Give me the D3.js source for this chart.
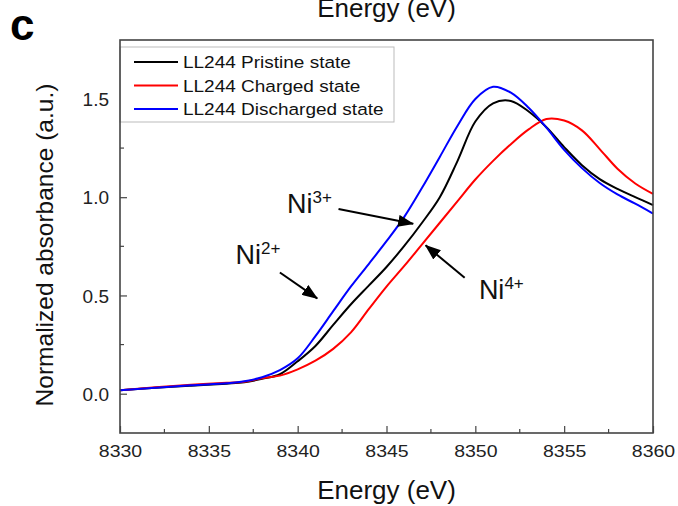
<!DOCTYPE html>
<html>
<head>
<meta charset="utf-8">
<script src="https://cdn.jsdelivr.net/npm/d3@7"></script>
<style>
  html, body { margin: 0; padding: 0; background: #fff; }
  svg { display: block; font-family: "Liberation Sans", Arial, sans-serif; }
</style>
</head>
<body>
<svg id="chart" width="678" height="506"></svg>
<script>
// energy grid (eV) and normalized absorbance
const energy = [8330, 8332, 8334, 8336, 8337, 8338, 8339, 8340, 8341, 8342, 8343, 8344, 8345,
  8346, 8347, 8348, 8349, 8350, 8351, 8352, 8353, 8354, 8355, 8356, 8357, 8358, 8359, 8360];
const pristine = [0.018, 0.030, 0.041, 0.051, 0.058, 0.076, 0.099, 0.165, 0.243, 0.350, 0.455, 0.550, 0.645,
  0.752, 0.870, 1.000, 1.185, 1.385, 1.478, 1.490, 1.436, 1.356, 1.255, 1.163, 1.092, 1.042, 1.000, 0.960];
const charged = [0.018, 0.033, 0.046, 0.056, 0.061, 0.079, 0.092, 0.124, 0.168, 0.228, 0.312, 0.430, 0.545,
  0.650, 0.760, 0.870, 0.980, 1.090, 1.185, 1.270, 1.345, 1.398, 1.390, 1.340, 1.245, 1.145, 1.070, 1.017];
const discharged = [0.018, 0.030, 0.043, 0.053, 0.063, 0.084, 0.120, 0.180, 0.293, 0.420, 0.546, 0.660, 0.776,
  0.900, 1.048, 1.205, 1.364, 1.500, 1.562, 1.532, 1.455, 1.354, 1.241, 1.148, 1.072, 1.014, 0.967, 0.917];

const seriesNames = ['LL244 Pristine state', 'LL244 Charged state', 'LL244 Discharged state'];
const seriesColors = ['#000000', '#ff0000', '#0000ff'];
const xTicks = [8330, 8335, 8340, 8345, 8350, 8355, 8360];
const yTicks = [0.0, 0.5, 1.0, 1.5];

// annotations: label, charge, label position (data), arrow start/end (data)
const notes = [
  { ion: 'Ni', sup: '2+', at: [8336.5, 0.66], from: [8339.0, 0.617], to: [8341.1, 0.485] },
  { ion: 'Ni', sup: '3+', at: [8339.4, 0.92], from: [8342.3, 0.94], to: [8346.5, 0.865] },
  { ion: 'Ni', sup: '4+', at: [8350.2, 0.48], from: [8349.4, 0.59], to: [8347.2, 0.755] }
];

const svg = d3.select('#chart');
const plotL = 120, plotR = 653, plotT = 40, plotB = 433;

const x = d3.scaleLinear().domain([8330, 8360]).range([plotL, plotR]);
const y = d3.scaleLinear().domain([-0.2, 1.8]).range([plotB, plotT]);

const axisColor = '#444';

// arrow head
svg.append('defs').append('marker')
  .attr('id', 'head')
  .attr('markerUnits', 'userSpaceOnUse')
  .attr('viewBox', '0 0 16 12')
  .attr('refX', 15).attr('refY', 6)
  .attr('markerWidth', 16).attr('markerHeight', 12)
  .attr('orient', 'auto')
  .append('path').attr('d', 'M0,0L16,6L0,12Z').attr('fill', '#000');

// curves
const line = d3.line().x((d, i) => x(energy[i])).y(d => y(d)).curve(d3.curveCatmullRom.alpha(0.5));
[pristine, charged, discharged].forEach((s, k) => {
  svg.append('path')
    .attr('d', line(s))
    .attr('fill', 'none')
    .attr('stroke', seriesColors[k])
    .attr('stroke-width', 2);
});

// minor ticks
const xMinor = d3.range(8332.5, 8360, 5);
const yMinor = [0.25, 0.75, 1.25];
svg.append('g').selectAll('line').data(xMinor).join('line')
  .attr('x1', d => x(d)).attr('x2', d => x(d))
  .attr('y1', plotB).attr('y2', plotB - 4)
  .attr('stroke', axisColor).attr('stroke-width', 1.2);
svg.append('g').selectAll('line').data(yMinor).join('line')
  .attr('x1', plotL).attr('x2', plotL + 4)
  .attr('y1', d => y(d)).attr('y2', d => y(d))
  .attr('stroke', axisColor).attr('stroke-width', 1.2);

// bottom axis
const gx = svg.append('g')
  .attr('transform', `translate(0,${plotB})`)
  .call(d3.axisBottom(x).tickValues(xTicks).tickFormat(d3.format('d')).tickSizeInner(-7).tickSizeOuter(0));
gx.select('.domain').remove();
gx.selectAll('.tick line').attr('stroke', axisColor).attr('stroke-width', 1.2);
gx.selectAll('.tick text')
  .attr('y', 0).attr('dy', null)
  .attr('transform', 'translate(0,24) scale(1,0.88)')
  .attr('font-size', 19.5).attr('fill', '#222')
  .attr('font-family', '"Liberation Sans", Arial, sans-serif');

// left axis
const gy = svg.append('g')
  .attr('transform', `translate(${plotL},0)`)
  .call(d3.axisLeft(y).tickValues(yTicks).tickFormat(d3.format('.1f')).tickSizeInner(-7).tickSizeOuter(0));
gy.select('.domain').remove();
gy.selectAll('.tick line').attr('stroke', axisColor).attr('stroke-width', 1.2);
gy.selectAll('.tick text')
  .attr('x', -11).attr('dy', '0.35em')
  .attr('font-size', 19).attr('fill', '#222')
  .attr('font-family', '"Liberation Sans", Arial, sans-serif');

// legend box
svg.append('rect')
  .attr('x', plotL).attr('y', 47).attr('width', 274).attr('height', 75)
  .attr('fill', '#fff').attr('stroke', '#bbb').attr('stroke-width', 1);
const leg = svg.append('g').selectAll('g').data(seriesNames).join('g')
  .attr('transform', (d, i) => `translate(134,${62 + i * 23.5})`);
leg.append('line').attr('x1', 0).attr('x2', 44)
  .attr('stroke', (d, i) => seriesColors[i]).attr('stroke-width', 2);
leg.append('text').text(d => d)
  .attr('transform', 'translate(49,6) scale(1,0.84)')
  .attr('font-size', 19).attr('fill', '#111');

// frame
svg.append('rect')
  .attr('x', plotL).attr('y', plotT).attr('width', plotR - plotL).attr('height', plotB - plotT)
  .attr('fill', 'none').attr('stroke', axisColor).attr('stroke-width', 1.6);

// annotations
notes.forEach(n => {
  svg.append('line')
    .attr('x1', x(n.from[0])).attr('y1', y(n.from[1]))
    .attr('x2', x(n.to[0])).attr('y2', y(n.to[1]))
    .attr('stroke', '#000').attr('stroke-width', 2)
    .attr('marker-end', 'url(#head)');
  const t = svg.append('text')
    .attr('x', x(n.at[0])).attr('y', y(n.at[1]))
    .attr('font-size', 27).attr('fill', '#111');
  t.append('tspan').text(n.ion);
  t.append('tspan').text(n.sup).attr('font-size', 17).attr('dy', -10);
});

// axis titles
svg.append('text')
  .attr('x', (plotL + plotR) / 2).attr('y', 499)
  .attr('text-anchor', 'middle').attr('font-size', 26).attr('fill', '#111')
  .text('Energy (eV)');
// bottom of the previous panel's axis title, clipped by the top edge as in the source
svg.append('text')
  .attr('x', (plotL + plotR) / 2).attr('y', 17)
  .attr('text-anchor', 'middle').attr('font-size', 26).attr('fill', '#111')
  .text('Energy (eV)');
svg.append('text')
  .attr('transform', 'translate(53,245) rotate(-90)')
  .attr('text-anchor', 'middle').attr('font-size', 24.5).attr('fill', '#111')
  .text('Normalized absorbance (a.u.)');

// panel letter
svg.append('text')
  .attr('x', 10).attr('y', 40)
  .attr('font-size', 44).attr('font-weight', 'bold').attr('fill', '#000')
  .text('c');
</script>
</body>
</html>
